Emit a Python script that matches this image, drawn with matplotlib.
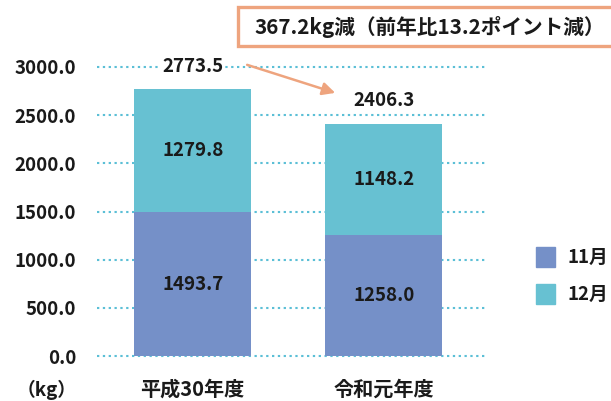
import matplotlib.pyplot as plt
from matplotlib.patches import Rectangle

plt.rcParams['font.family'] = ['Noto Sans CJK JP', 'DejaVu Sans']
plt.rcParams['font.weight'] = 'bold'
plt.rcParams['text.color'] = '#1a1a1a'
plt.rcParams['xtick.color'] = '#1a1a1a'
plt.rcParams['ytick.color'] = '#1a1a1a'

years = ['平成30年度', '令和元年度']
nov = [1493.7, 1258.0]
dec = [1279.8, 1148.2]
totals = [2773.5, 2406.3]
series_names = ['11月', '12月']
yticks = [0, 500, 1000, 1500, 2000, 2500, 3000]

c_nov = '#7590c8'
c_dec = '#67c1d2'
c_grid = '#5bbfd6'
c_accent = '#eea47e'

fig = plt.figure(figsize=(6.11, 4.01), dpi=100)
ax = fig.add_axes([0.159, 0.112, 0.638, 0.721])

x = range(len(years))
ax.bar(x, nov, width=0.613, color=c_nov, zorder=2)
ax.bar(x, dec, bottom=nov, width=0.613, color=c_dec, zorder=2)

# dotted guide lines, not clipped so the zero line shows in full
ax.hlines(yticks, -0.5, 1.54, colors=c_grid, linestyles=(0, (1.1, 1.7)), lw=1.5,
          zorder=1, clip_on=False)

for i in x:
    ax.text(i, nov[i] / 2, f'{nov[i]:.1f}', ha='center', va='center', fontsize=13.5, zorder=3)
    ax.text(i, nov[i] + dec[i] / 2, f'{dec[i]:.1f}', ha='center', va='center', fontsize=13.5, zorder=3)

ax.text(0, 3000, f'{totals[0]:.1f}', ha='center', va='center', fontsize=13.5,
        zorder=3, bbox=dict(facecolor='white', edgecolor='none', pad=1))
ax.text(1, totals[1] + 250, f'{totals[1]:.1f}', ha='center', va='center', fontsize=13.5, zorder=3)

ax.annotate('', xy=(0.746, 2731), xytext=(0.285, 3022),
            arrowprops=dict(arrowstyle='-|>', color=c_accent, lw=1.8, mutation_scale=19,
                            shrinkA=0, shrinkB=0), annotation_clip=False)

ax.set_xlim(-0.5, 1.54)
ax.set_ylim(0, 3000)
ax.set_yticks(yticks)
ax.set_yticklabels([f'{v:.1f}' for v in yticks], fontsize=13.5)
ax.set_xticks(list(x))
ax.set_xticklabels(years, fontsize=14.5)
ax.tick_params(length=0)
ax.tick_params(axis='y', pad=15)
ax.tick_params(axis='x', pad=16)
for s in ax.spines.values():
    s.set_visible(False)

fig.text(0.126, 0.027, '（kg）', ha='right', va='center', fontsize=13.5)

# legend squares
for j, (name, col) in enumerate(zip(series_names, [c_nov, c_dec])):
    yy = 0.359 - j * 0.092
    fig.patches.append(Rectangle((0.877, yy - 0.024), 0.031, 0.048, color=col,
                                 transform=fig.transFigure, figure=fig))
    fig.text(0.929, yy, name, ha='left', va='center', fontsize=13.5)

# headline box
fig.patches.append(Rectangle((0.389, 0.885), 0.63, 0.097, facecolor='white',
                             edgecolor=c_accent, lw=2.4, transform=fig.transFigure, figure=fig))
fig.text(0.417, 0.932, '367.2kg減（前年比13.2ポイント減）', ha='left', va='center', fontsize=14.9)

fig.savefig('out.png', dpi=100)
